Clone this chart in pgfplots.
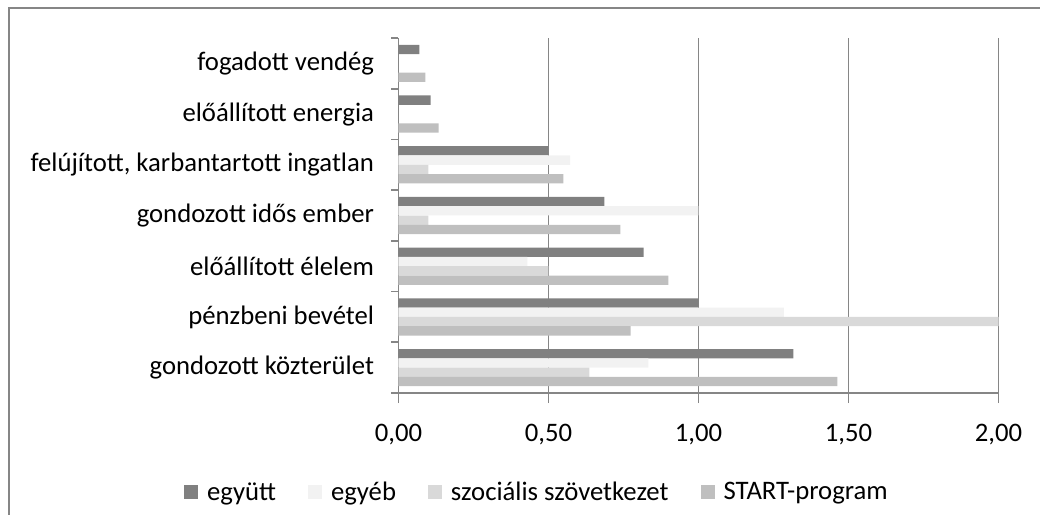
\documentclass[border=0pt]{standalone}
\usepackage{fontspec}
\setmainfont{Carlito}
\usepackage{pgfplots}
\pgfplotsset{compat=1.18}
\definecolor{gridgray}{HTML}{868686}
\definecolor{cEgyutt}{HTML}{808080}
\definecolor{cEgyeb}{HTML}{F2F2F2}
\definecolor{cSzoc}{HTML}{D9D9D9}
\definecolor{cStart}{HTML}{BFBFBF}
\newcommand{\chartfont}{\fontsize{26.7bp}{32bp}\selectfont}
\begin{document}
\begin{tikzpicture}
\useasboundingbox (-398.5bp,-122bp) rectangle (641.5bp,393bp);
\draw[gridgray, line width=1.8bp] (-389.5bp,-130bp) -- (-389.5bp,385bp) -- (650bp,385bp);
\begin{axis}[
  at={(0,0)}, anchor=south west,
  scale only axis,
  width=600bp, height=355bp,
  xmin=0, xmax=2, ymin=-0.5, ymax=6.5,
  xtick={0,0.5,1,1.5,2},
  xticklabel={\pgfmathprintnumber[fixed,fixed zerofill,precision=2,use comma,assume math mode=true]{\tick}},
  ytick={0,1,2,3,4,5,6},
  yticklabels={gondozott közterület,pénzbeni bevétel,előállított élelem,gondozott idős ember,{felújított, karbantartott ingatlan},előállított energia,fogadott vendég},
  extra y ticks={-0.5,0.5,1.5,2.5,3.5,4.5,5.5,6.5},
  extra y tick labels={},
  extra y tick style={major tick length=7bp, tick align=outside, ymajorgrids=false, xmajorgrids=false,
     y tick style={draw=gridgray, line width=1.8bp}},
  xmajorgrids=true,
  grid style={gridgray, line width=1.8bp},
  axis x line*=bottom,
  axis y line*=left,
  axis line style={gridgray, line width=1.8bp},
  x axis line style={-}, y axis line style={-},
  major tick style={gridgray, line width=1.8bp},
  major tick length=10bp,
  xtick align=outside, ytick align=outside,
  y tick style={draw=none},
  tick label style={font=\chartfont, text=black},
  y tick label style={anchor=east, xshift=-11bp},
  x tick label style={yshift=-18bp},
  xbar, bar width=0.183,
  legend columns=4,
  legend style={at={(0.2308,-0.2789)}, anchor=center, draw=none, fill=none,
    font=\chartfont,
    /tikz/every even column/.append style={column sep=30bp}},
  legend image code/.code={\fill[#1] (0bp,-7bp) rectangle (14bp,7bp); \path (21bp,0bp);},
]
\addplot[fill=cEgyutt, draw=none, bar shift=0.275] coordinates {
 (1.316,0) (1.00,1) (0.817,2) (0.686,3) (0.50,4) (0.107,5) (0.07,6)};
\addlegendentry{együtt}
\addplot[fill=cEgyeb, draw=none, bar shift=0.0917] coordinates {
 (0.833,0) (1.285,1) (0.43,2) (1.00,3) (0.572,4)};
\addlegendentry{egyéb}
\addplot[fill=cSzoc, draw=none, bar shift=-0.0917] coordinates {
 (0.636,0) (2.00,1) (0.50,2) (0.10,3) (0.10,4)};
\addlegendentry{szociális szövetkezet}
\addplot[fill=cStart, draw=none, bar shift=-0.275] coordinates {
 (1.463,0) (0.774,1) (0.90,2) (0.74,3) (0.55,4) (0.134,5) (0.09,6)};
\addlegendentry{START-program}
\end{axis}
\end{tikzpicture}
\end{document}
